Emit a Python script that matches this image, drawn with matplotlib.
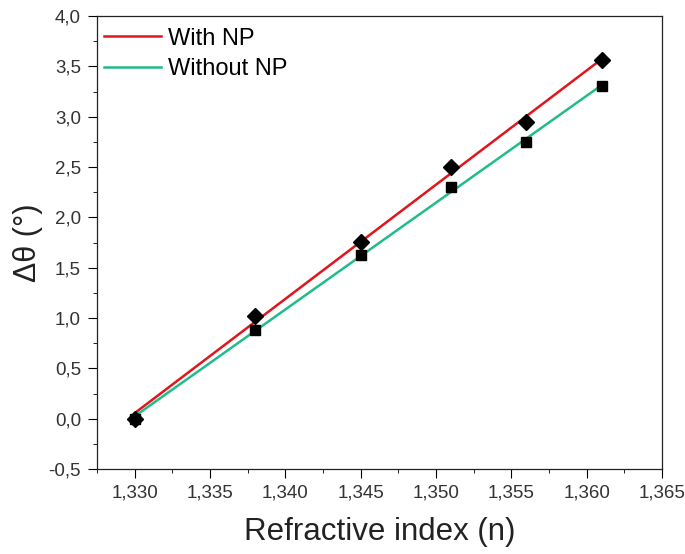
import matplotlib
matplotlib.use("Agg")
from matplotlib import pyplot as plt
from matplotlib.ticker import MultipleLocator, FuncFormatter
import numpy as np

plt.rcParams['font.family'] = ['Liberation Sans', 'DejaVu Sans']

n = [1.330, 1.338, 1.345, 1.351, 1.356, 1.361]
with_np = [0.0, 1.02, 1.76, 2.50, 2.95, 3.56]
without_np = [0.0, 0.88, 1.63, 2.30, 2.75, 3.30]

red = '#e0161c'
green = '#22bb8c'

fig = plt.figure(figsize=(6.85, 5.54), dpi=100)
ax = fig.add_axes([0.1416, 0.1534, 0.8248, 0.8177])

x = np.asarray(n)
for ys, col, lab in [(with_np, red, "With NP"), (without_np, green, "Without NP")]:
	k, b = np.polyfit(x, ys, 1)
	ax.plot([x[0], x[-1]], [k * x[0] + b, k * x[-1] + b], color = col, lw = 1.8, label = lab, zorder = 2)

ax.plot(n, with_np, 'D', color = 'black', ms = 8.5, zorder = 3)
ax.plot(n, without_np, 's', color = 'black', ms = 6.5, zorder = 3)

ax.set_xlim(1.3275, 1.365)
ax.set_ylim(-0.5, 4.0)
ax.xaxis.set_major_locator(MultipleLocator(0.005))
ax.xaxis.set_minor_locator(MultipleLocator(0.0025))
ax.yaxis.set_major_locator(MultipleLocator(0.5))
ax.yaxis.set_minor_locator(MultipleLocator(0.25))
ax.xaxis.set_major_formatter(FuncFormatter(lambda v, p: f"{v:.3f}".replace('.', ',')))
ax.yaxis.set_major_formatter(FuncFormatter(lambda v, p: f"{v:.1f}".replace('.', ',')))

ax.tick_params(which = 'both', direction = 'out', top = False, right = False, labelsize = 13.5, labelcolor = '#333333')
ax.tick_params(which = 'major', length = 6.5, pad = 5)
ax.tick_params(which = 'minor', length = 3)
for s in ax.spines.values():
	s.set_color('#222222')
	s.set_linewidth(0.9)

ax.set_xlabel("Refractive index (n)", fontsize = 22.5, color = '#222222', labelpad = 11)
ax.set_ylabel("Δθ (°)", fontsize = 22, color = '#222222', labelpad = 4)

ax.legend(loc = 'upper left', bbox_to_anchor = (0.004, 0.985), frameon = False, fontsize = 17, handlelength = 2.4, handletextpad = 0.3, labelspacing = 0.36, borderaxespad = 0, borderpad = 0.2)

fig.savefig('out.png', dpi = 100)
